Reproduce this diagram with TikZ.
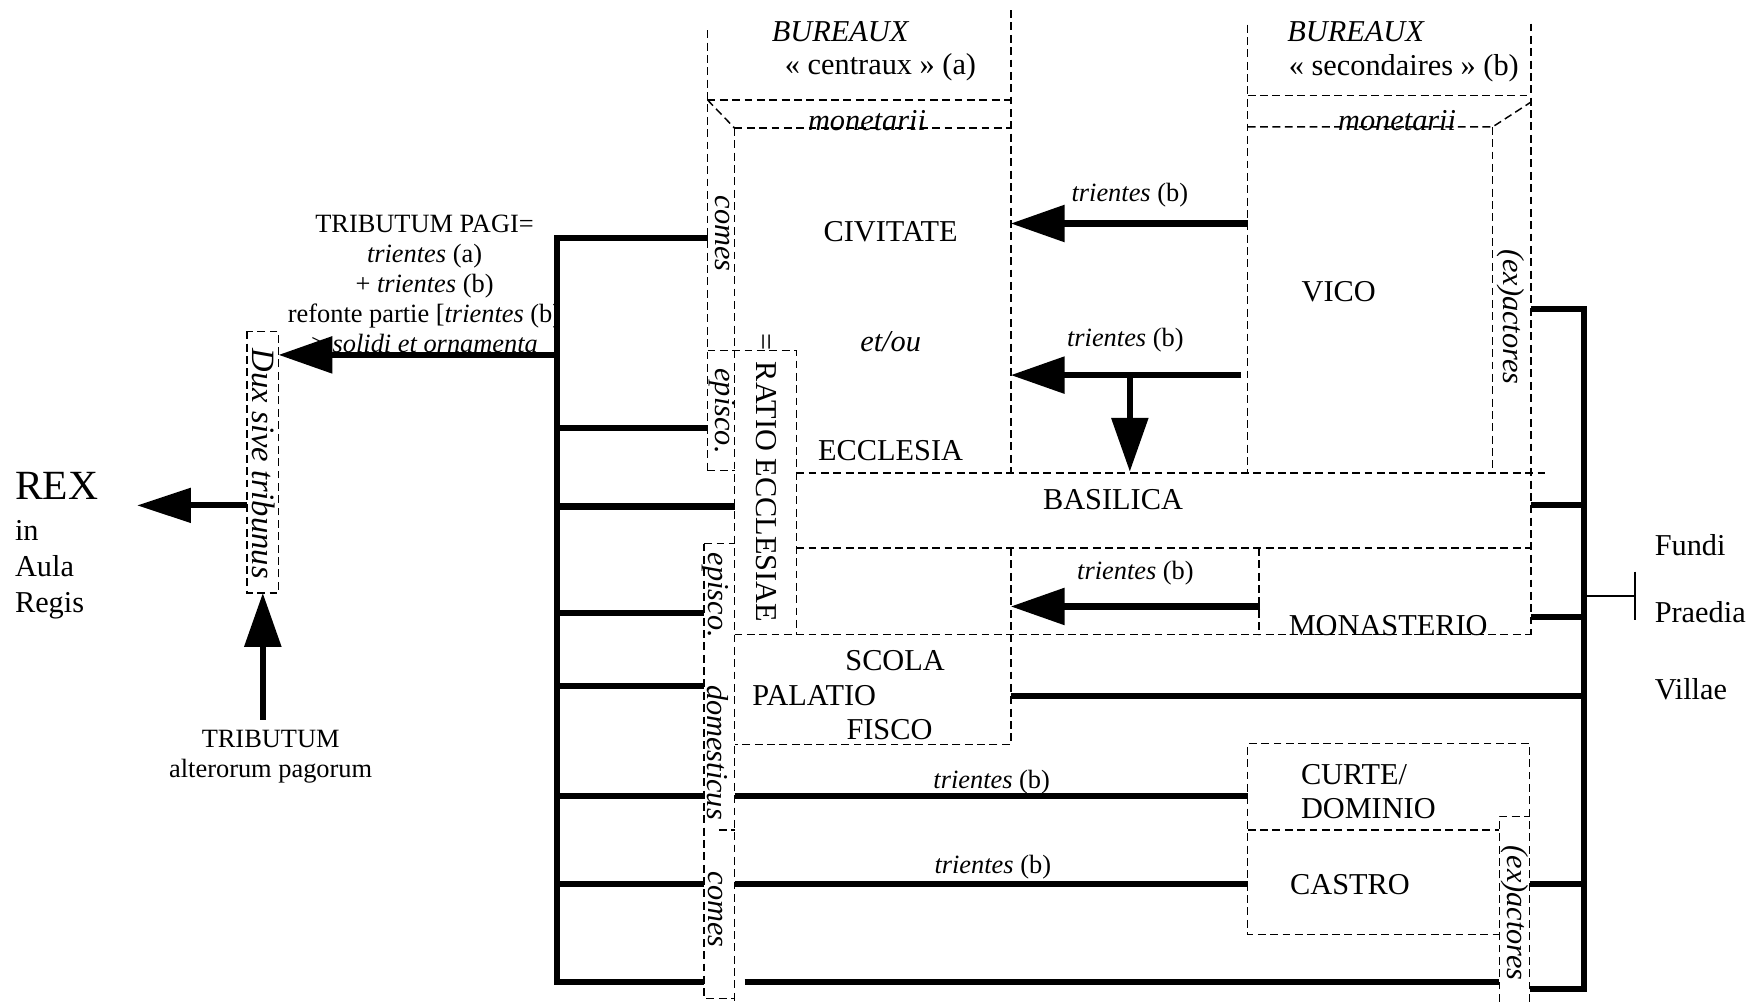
\documentclass[tikz,border=0pt]{standalone}
\usepackage{fontspec}
\setmainfont{Liberation Serif}
\usetikzlibrary{arrows.meta}
\begin{document}
\begin{tikzpicture}[x=0.5pt,y=-0.5pt,
  txt/.style={inner sep=0pt, font=\fontsize{13.5}{16}\selectfont},
  itx/.style={inner sep=0pt, font=\fontsize{13.5}{16}\selectfont\itshape},
  sm/.style={inner sep=0pt, font=\fontsize{11.75}{13.4}\selectfont, align=center},
  rot/.style={itx, rotate=-90},
  dl/.style={dash pattern=on 3.5pt off 2pt, line width=0.65pt},
  thk/.style={line width=2.7pt, line join=miter},
  arr/.style={line width=2.7pt, -{Triangle[length=24pt,width=16pt]}},
]
\useasboundingbox (0,0) rectangle (1568,893);

% ---------- dashed frames ----------
\draw[dl] (630,27) -- (630,419);
\draw[dl] (900,9) -- (900,421);
\draw[dl] (630,89) -- (900,89);
\draw[dl] (630,89) -- (654,114);
\draw[dl] (654,114) -- (900,114);
\draw[dl] (654,114) -- (654,892);
\draw[dl] (630,312) -- (709,312) -- (709,565);
\draw[dl] (630,419) -- (654,419);
\draw[dl] (709,421) -- (1379,421);
\draw[dl] (709,488) -- (1363,488);
\draw[dl] (654,565) -- (1363,565);
\draw[dl] (900,488) -- (900,663) -- (654,663);
\draw[dl] (1121,488) -- (1121,565);
\draw[dl] (1363,21) -- (1363,565);
\draw[dl] (1111,22) -- (1111,421);
\draw[dl] (1111,85) -- (1363,85);
\draw[dl] (1111,113) -- (1329,113) -- (1363,91);
\draw[dl] (1329,113) -- (1329,421);
\draw[dl] (1362,892) -- (1362,662) -- (1111,662) -- (1111,832) -- (1335,832);
\draw[dl] (1111,739) -- (1335,739);
\draw[dl] (1335,892) -- (1335,727) -- (1362,727);
\draw[dl] (627,484) -- (654,484);
\draw[dl] (627,484) -- (627,889) -- (654,889);
\draw[dl] (640,739) -- (654,739);
\draw[dl] (220,295) rectangle (248,528);

% ---------- texts ----------
\node[itx] (bur1) at (748,28) {BUREAUX};
\node[txt] (cen) at (784,60) {« centraux » (a)};
\node[itx] (bur2) at (1207,28) {BUREAUX};
\node[txt] (sec) at (1250,61) {« secondaires » (b)};
\node[itx, anchor=base] (mon1) at (772,116) {monetarii};
\node[itx, anchor=base] (mon2) at (1244,116) {monetarii};
\node[txt] (civ) at (793,206) {CIVITATE};
\node[itx] (etou) at (793,304) {et/ou};
\node[txt] (eccl) at (793,401) {ECCLESIA};
\node[txt] (vico) at (1192,260) {VICO};
\node[txt] (basi) at (991,445) {BASILICA};
\node[txt, anchor=base] (mona) at (1236,566) {MONASTERIO};
\node[txt] (scola) at (797,588) {SCOLA};
\node[txt] (pala) at (725,619) {PALATIO};
\node[txt] (fisco) at (792,650) {FISCO};
\node[txt, anchor=west] (curte) at (1158,690) {CURTE/};
\node[txt, anchor=west] (domi) at (1158,720) {DOMINIO};
\node[txt] (castro) at (1202,788) {CASTRO};

\node[sm] (t1) at (1006,174) {\textit{trientes} (b)};
\node[sm] (t2) at (1002,303) {\textit{trientes} (b)};
\node[sm] (t3) at (1011,510) {\textit{trientes} (b)};
\node[sm] (t4) at (883,696) {\textit{trientes} (b)};
\node[sm] (t5) at (884,772) {\textit{trientes} (b)};

\node[sm] (pagi) at (378,253) {TRIBUTUM PAGI=\\ \textit{trientes} (a)\\ + \textit{trientes} (b)\\ refonte partie [\textit{trientes} (b)\\ > \textit{solidi et ornamenta}};
\node[sm] (alt) at (241,674) {TRIBUTUM\\ alterorum pagorum};

\node[inner sep=0pt, anchor=base west, font=\fontsize{18.5}{20}\selectfont] (rex) at (13,445) {REX};
\node[txt, anchor=base west] (in) at (13,481) {in};
\node[txt, anchor=base west] (aula) at (13,513) {Aula};
\node[txt, anchor=base west] (regis) at (13,545) {Regis};

\node[txt, anchor=west] (fundi) at (1473,485) {Fundi};
\node[txt, anchor=west] (praedia) at (1473,545) {Praedia};
\node[txt, anchor=west] (villae) at (1473,614) {Villae};

\node[rot] (comes1) at (643,208) {comes};
\node[rot] (epi1) at (643,366) {episco.};
\node[txt, rotate=-90] (ratio) at (682,438) {RATIO ECCLESIAE};
\node[txt, rotate=-90] (eq) at (680,305) {=};
\node[rot] (exa1) at (1345,282) {(ex)actores};
\node[rot] (exa2) at (1349,813) {(ex)actores};
\node[rot] (epi2) at (637,530) {episco.};
\node[rot] (dom) at (639,670) {domesticus};
\node[rot] (comes2) at (637,810) {comes};
\node[itx, rotate=-90, font=\fontsize{14.5}{16}\selectfont\itshape] (dux) at (235,413) {Dux sive tribunus};

% ---------- left trunk ----------
\coordinate (LTop) at (496,212);
\coordinate (LBot) at (496,874);
\draw[thk] (630,212) -- (LTop) -- (LBot) -- (627,874);
\foreach \n/\y/\x in {a/381/630, b/451/654, c/546/627, d/611/627, e/709/627, f/787/627} {
  \coordinate (L\n) at (496,\y);
  \coordinate (E\n) at (\x,\y);
  \draw[thk] (L\n) -- (E\n);
}
\coordinate (Lp) at (496,316);
\coordinate (duxE) at (248,316);
\draw[arr] (Lp) -- (duxE);

% long branches
\coordinate (ce1) at (654,709); \coordinate (cu1) at (1111,709);
\draw[thk] (ce1) -- (cu1);
\coordinate (ce2) at (654,787); \coordinate (ca1) at (1111,787);
\draw[thk] (ce2) -- (ca1);
\coordinate (ce3) at (663,874); \coordinate (ex3) at (1335,874);
\draw[thk] (ce3) -- (ex3);

% ---------- right trunk ----------
\coordinate (RTop) at (1410,275);
\coordinate (RBot) at (1410,881);
\draw[thk] (1363,275) -- (RTop) -- (RBot) -- (1362,881);
\foreach \n/\y/\x in {a/450/1363, b/549/1363, c/620/900, d/787/1362} {
  \coordinate (R\n) at (1410,\y);
  \coordinate (S\n) at (\x,\y);
  \draw[thk] (S\n) -- (R\n);
}
\coordinate (RF) at (1410,531);
\coordinate (FB) at (1456,531);
\draw[line width=0.8pt] (RF) -- (FB) (1456,509) -- (1456,552);

% ---------- arrows ----------
\coordinate (v1) at (1111,199); \coordinate (c1) at (900,199);
\draw[arr] (v1) -- (c1);
\coordinate (v2) at (1105,334); \coordinate (c2) at (900,334);
\draw[arr] (v2) -- (c2);
\coordinate (j2) at (1006,334); \coordinate (bTop) at (1006,420);
\draw[arr] (j2) -- (bTop);
\coordinate (m1) at (1122,540); \coordinate (c3) at (900,540);
\draw[arr] (m1) -- (c3);
\coordinate (duxW) at (220,450); \coordinate (rexE) at (122,450);
\draw[line width=2.7pt, -{Triangle[length=24pt,width=15pt]}] (duxW) -- (rexE);
\coordinate (altN) at (234,641); \coordinate (duxS) at (234,528);
\draw[arr] (altN) -- (duxS);

\end{tikzpicture}
\end{document}
